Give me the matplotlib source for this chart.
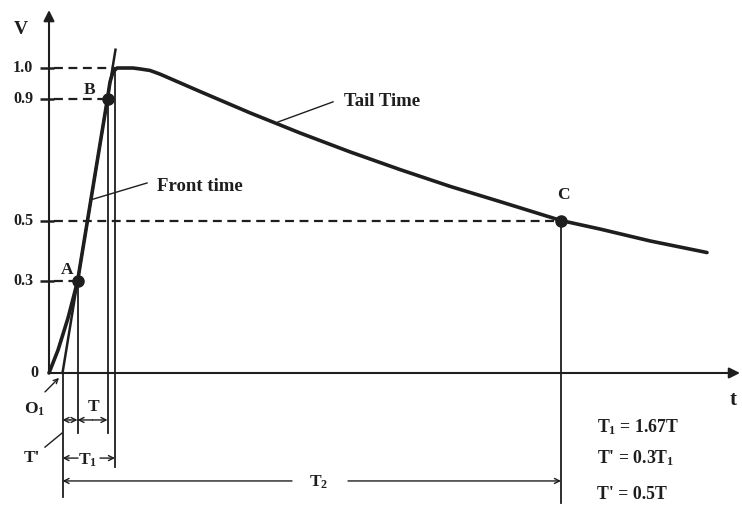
import matplotlib
matplotlib.use('Agg')
import matplotlib.pyplot as plt

plt.rcParams['font.family'] = ['Liberation Serif', 'DejaVu Serif']
plt.rcParams['font.weight'] = 'bold'
plt.rcParams['mathtext.fontset'] = 'custom'
plt.rcParams['mathtext.rm'] = 'Liberation Serif:bold'
plt.rcParams['mathtext.it'] = 'Liberation Serif:bold'
plt.rcParams['mathtext.bf'] = 'Liberation Serif:bold'

# ---- data (time in arbitrary units, voltage per-unit) ----
wave_t = [0, 0.9, 1.9, 2.85, 4.35, 5.85, 6.1, 6.4, 6.8, 8.4, 9.1, 10.1, 11.1,
          15.1, 20.1, 25.1, 30.1, 35.1, 40.1, 45.1, 51.2, 55.1, 60.1, 65.8]
wave_v = [0, 0.075, 0.18, 0.30, 0.60, 0.90, 0.954, 0.987, 1.0, 1.0, 0.997,
          0.992, 0.980, 0.923, 0.853, 0.787, 0.725, 0.667, 0.612, 0.562,
          0.50, 0.472, 0.433, 0.395]

point_names = ['A', 'B', 'C']
point_t = [2.85, 5.85, 51.2]
point_v = [0.3, 0.9, 0.5]

level_values = [0.3, 0.5, 0.9, 1.0]
level_labels = ['0.3', '0.5', '0.9', '1.0']
level_ends = [2.85, 51.2, 5.85, 6.6]

t_o1 = 1.35      # virtual origin O1
t_peak_cross = 6.6

formulas = ["$T_1$ = 1.67T", "T' = 0.3$T_1$", "T' = 0.5T"]

ink = '#1e1e1e'

fig = plt.figure(figsize=(7.42, 5.11), dpi=100)
ax = fig.add_axes([0, 0, 1, 1])
ax.set_xlim(-4.9, 69.3)
ax.set_ylim(-0.4525, 1.223)
ax.axis('off')

# axes with arrows
ax.annotate('', xy=(0, 1.19), xytext=(0, 0),
            arrowprops=dict(arrowstyle='-|>', color=ink, lw=1.5,
                            mutation_scale=16, shrinkA=0, shrinkB=0))
ax.annotate('', xy=(69.1, 0), xytext=(0, 0),
            arrowprops=dict(arrowstyle='-|>', color=ink, lw=1.5,
                            mutation_scale=16, shrinkA=0, shrinkB=0))
ax.text(-2.8, 1.125, 'V', fontsize=14, ha='center', va='center', color=ink)
ax.text(68.4, -0.089, 't', fontsize=15, ha='center', va='center', color=ink)

# level ticks, labels, dashed guides
for v, lab, te in zip(level_values, level_labels, level_ends):
    ax.plot([-0.9, 0.5], [v, v], color=ink, lw=1.8, solid_capstyle='butt')
    ax.plot([0.5, te], [v, v], color=ink, lw=1.6, ls=(0, (4, 2.5)))
    ax.text(-1.6, v, lab, fontsize=11.5, ha='right', va='center', color=ink)
ax.text(-1.1, 0.0, '0', fontsize=11.5, ha='right', va='center', color=ink)

# front line through A and B
slope = (point_t[1] - point_t[0]) / (point_v[1] - point_v[0])
fv = [0.0, 1.06]
ft = [point_t[0] + (v - point_v[0]) * slope for v in fv]
ax.plot(ft, fv, color=ink, lw=1.8)

# waveform
ax.plot(wave_t, wave_v, color=ink, lw=2.6, solid_joinstyle='round',
        solid_capstyle='round')
ax.plot(point_t, point_v, 'o', color=ink, ms=8)
label_off = [(-1.05, 0.038), (-1.75, 0.028), (0.2, 0.084)]
for n, t, v, (dx, dy) in zip(point_names, point_t, point_v, label_off):
    ax.text(t + dx, v + dy, n, fontsize=12.5, ha='center', va='center', color=ink)

# vertical reference lines
vlines = [(t_o1, 0.0, -0.407), (point_t[0], point_v[0], -0.197),
          (point_t[1], point_v[1], -0.197), (t_peak_cross, 1.0, -0.308),
          (point_t[2], point_v[2], -0.426)]
for t, v0, v1 in vlines:
    ax.plot([t, t], [v0, v1], color=ink, lw=1.3)

def dim(x0, x1, y):
    ax.annotate('', xy=(x1, y), xytext=(x0, y),
                arrowprops=dict(arrowstyle='->', color=ink, lw=1.0,
                                mutation_scale=9, shrinkA=0, shrinkB=0))

# T' and T
dim(2.1, t_o1, -0.154); dim(2.1, point_t[0], -0.154)
dim(4.35, point_t[0], -0.154); dim(4.35, point_t[1], -0.154)
ax.text(4.4, -0.11, 'T', fontsize=12.5, ha='center', va='center', color=ink)
# T1
dim(2.9, t_o1, -0.279); dim(5.1, t_peak_cross, -0.279)
ax.text(3.9, -0.285, '$T_1$', fontsize=12.5, ha='center', va='center', color=ink)
# T2
dim(24.3, t_o1, -0.354); dim(29.9, point_t[2], -0.354)
ax.text(27.0, -0.36, '$T_2$', fontsize=12.5, ha='center', va='center', color=ink)

# O1 and T' labels
ax.text(-1.5, -0.118, '$O_1$', fontsize=12.5, ha='center', va='center', color=ink)
ax.annotate('', xy=(1.0, -0.016), xytext=(-0.4, -0.062),
            arrowprops=dict(arrowstyle='->', color=ink, lw=1.0,
                            mutation_scale=8, shrinkA=0, shrinkB=0))
ax.text(-1.7, -0.279, "T'", fontsize=12.5, ha='center', va='center', color=ink)
ax.plot([-0.4, 1.3], [-0.243, -0.197], color=ink, lw=1.0)

# annotations
ax.text(10.8, 0.61, 'Front time', fontsize=13.5, ha='left', va='center', color=ink)
ax.plot([9.8, 4.1], [0.623, 0.567], color=ink, lw=1.0)
ax.text(29.5, 0.889, 'Tail Time', fontsize=13.5, ha='left', va='center', color=ink)
ax.plot([28.4, 22.9], [0.889, 0.823], color=ink, lw=1.0)

for i, f in enumerate(formulas):
    ax.text(54.8, [-0.177, -0.279, -0.40][i], f, fontsize=12.8, ha='left',
            va='center', color=ink)

fig.savefig('out.png', dpi=100)
